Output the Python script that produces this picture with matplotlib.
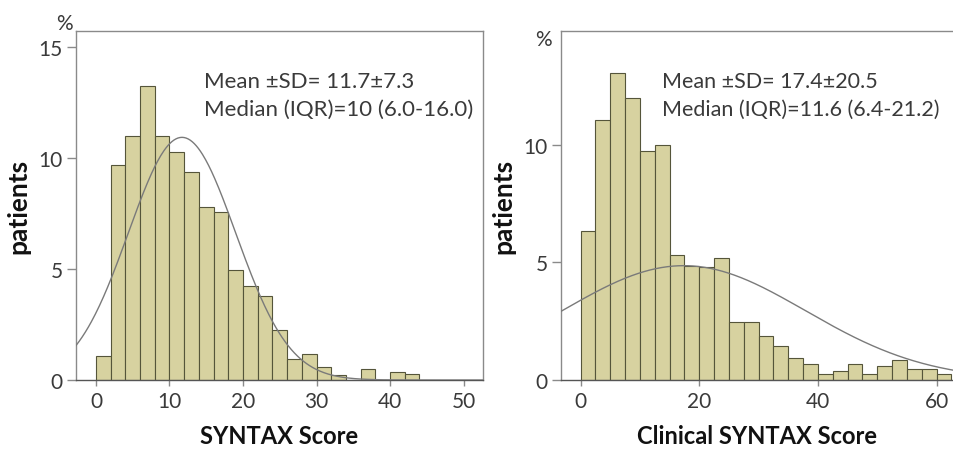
import numpy as np
import matplotlib
matplotlib.use("Agg")
import matplotlib.pyplot as plt

plt.rcParams['font.family'] = ['Lato', 'DejaVu Sans']

# ---- data: left panel (SYNTAX Score), bins of width 2 starting at 0 ----
syntax_bin_start = 0.0
syntax_bin_width = 2.0
syntax_pct = [1.06, 9.70, 11.01, 13.24, 11.01, 10.27, 9.35, 7.78, 7.56, 4.95,
              4.24, 3.79, 2.26, 0.95, 1.16, 0.59, 0.23, 0.0, 0.48, 0.0,
              0.38, 0.26]
syntax_mean, syntax_sd = 11.7, 7.3
syntax_xticks = [0, 10, 20, 30, 40, 50]
syntax_yticks = [0, 5, 10, 15]

# ---- data: right panel (Clinical SYNTAX Score), bins of width 2.5 ----
clin_bin_start = 0.0
clin_bin_width = 2.5
clin_pct = [6.32, 11.06, 13.06, 12.00, 9.75, 10.01, 5.30, 4.86, 4.82, 5.18,
            2.48, 2.48, 1.86, 1.43, 0.93, 0.70, 0.25, 0.37, 0.70, 0.27,
            0.58, 0.85, 0.48, 0.48, 0.25]
clin_mean, clin_sd = 17.4, 20.5
clin_xticks = [0, 20, 40, 60]
clin_yticks = [0, 5, 10]

texts_left = ["Mean \u00b1SD= 11.7\u00b17.3", "Median (IQR)=10 (6.0-16.0)"]
texts_right = ["Mean \u00b1SD= 17.4\u00b120.5", "Median (IQR)=11.6 (6.4-21.2)"]

BAR_FACE = "#d7d2a0"
BAR_EDGE = "#55553a"
FRAME = "#8a8a8a"
TXT = "#3a3a3a"

W, H = 954, 452
fig = plt.figure(figsize=(W / 100, H / 100), dpi=100)


def px_rect(l, r, t, b):
    return [l / W, 1 - b / H, (r - l) / W, (b - t) / H]


def panel(rect, pct, start, width, mean, sd, xlim, ylim, xticks, yticks,
          xlabel, texts, text_xy, pct_xy, tsize):
    ax = fig.add_axes(rect)
    n = len(pct)
    edges = start + width * np.arange(n)
    ax.bar(edges, pct, width=width, align='edge', color=BAR_FACE,
           edgecolor=BAR_EDGE, linewidth=0.8, zorder=2)
    xs = np.linspace(xlim[0], xlim[1], 400)
    ys = 100 * width * np.exp(-0.5 * ((xs - mean) / sd) ** 2) / (sd * np.sqrt(2 * np.pi))
    ax.plot(xs, ys, color="#7a7a7a", linewidth=1.0, zorder=3)
    ax.set_xlim(*xlim)
    ax.set_ylim(*ylim)
    ax.set_xticks(xticks)
    ax.set_yticks(yticks)
    for s in ax.spines.values():
        s.set_color(FRAME)
        s.set_linewidth(1.0)
    ax.spines['bottom'].set_color("#555555")
    ax.tick_params(axis='x', length=4, width=1, color=FRAME, pad=4,
                   labelsize=15, labelcolor=TXT)
    ax.tick_params(axis='y', length=6.5, width=1, color=FRAME, pad=3,
                   labelsize=15, labelcolor=TXT)
    ax.set_xlabel(xlabel, fontsize=17, fontweight='bold', color="#111111",
                  labelpad=9)
    ax.set_ylabel("patients", fontsize=19, fontweight='bold', color="#111111",
                  labelpad=6)
    fig.text(text_xy[0] / W, 1 - text_xy[1] / H, texts[0], fontsize=tsize,
             color=TXT, va='center', ha='left')
    fig.text(text_xy[0] / W, 1 - (text_xy[1] + 28.5) / H, texts[1], fontsize=tsize,
             color=TXT, va='center', ha='left')
    fig.text(pct_xy[0] / W, 1 - pct_xy[1] / H, "%", fontsize=15,
             color=TXT, va='center', ha='center')
    return ax


ax1 = panel(px_rect(76, 483, 32, 381), syntax_pct, syntax_bin_start,
            syntax_bin_width, syntax_mean, syntax_sd, (-2.72, 52.65),
            (0, 15.72), syntax_xticks, syntax_yticks, "SYNTAX Score",
            texts_left, (204, 81.7), (64, 24), 16)
ax2 = panel(px_rect(561, 954, 32, 381), clin_pct, clin_bin_start,
            clin_bin_width, clin_mean, clin_sd, (-3.3, 62.95),
            (0, 14.85), clin_xticks, clin_yticks, "Clinical SYNTAX Score",
            texts_right, (661.7, 81.7), (543, 40), 15.5)

fig.savefig("out.png", dpi=100)
